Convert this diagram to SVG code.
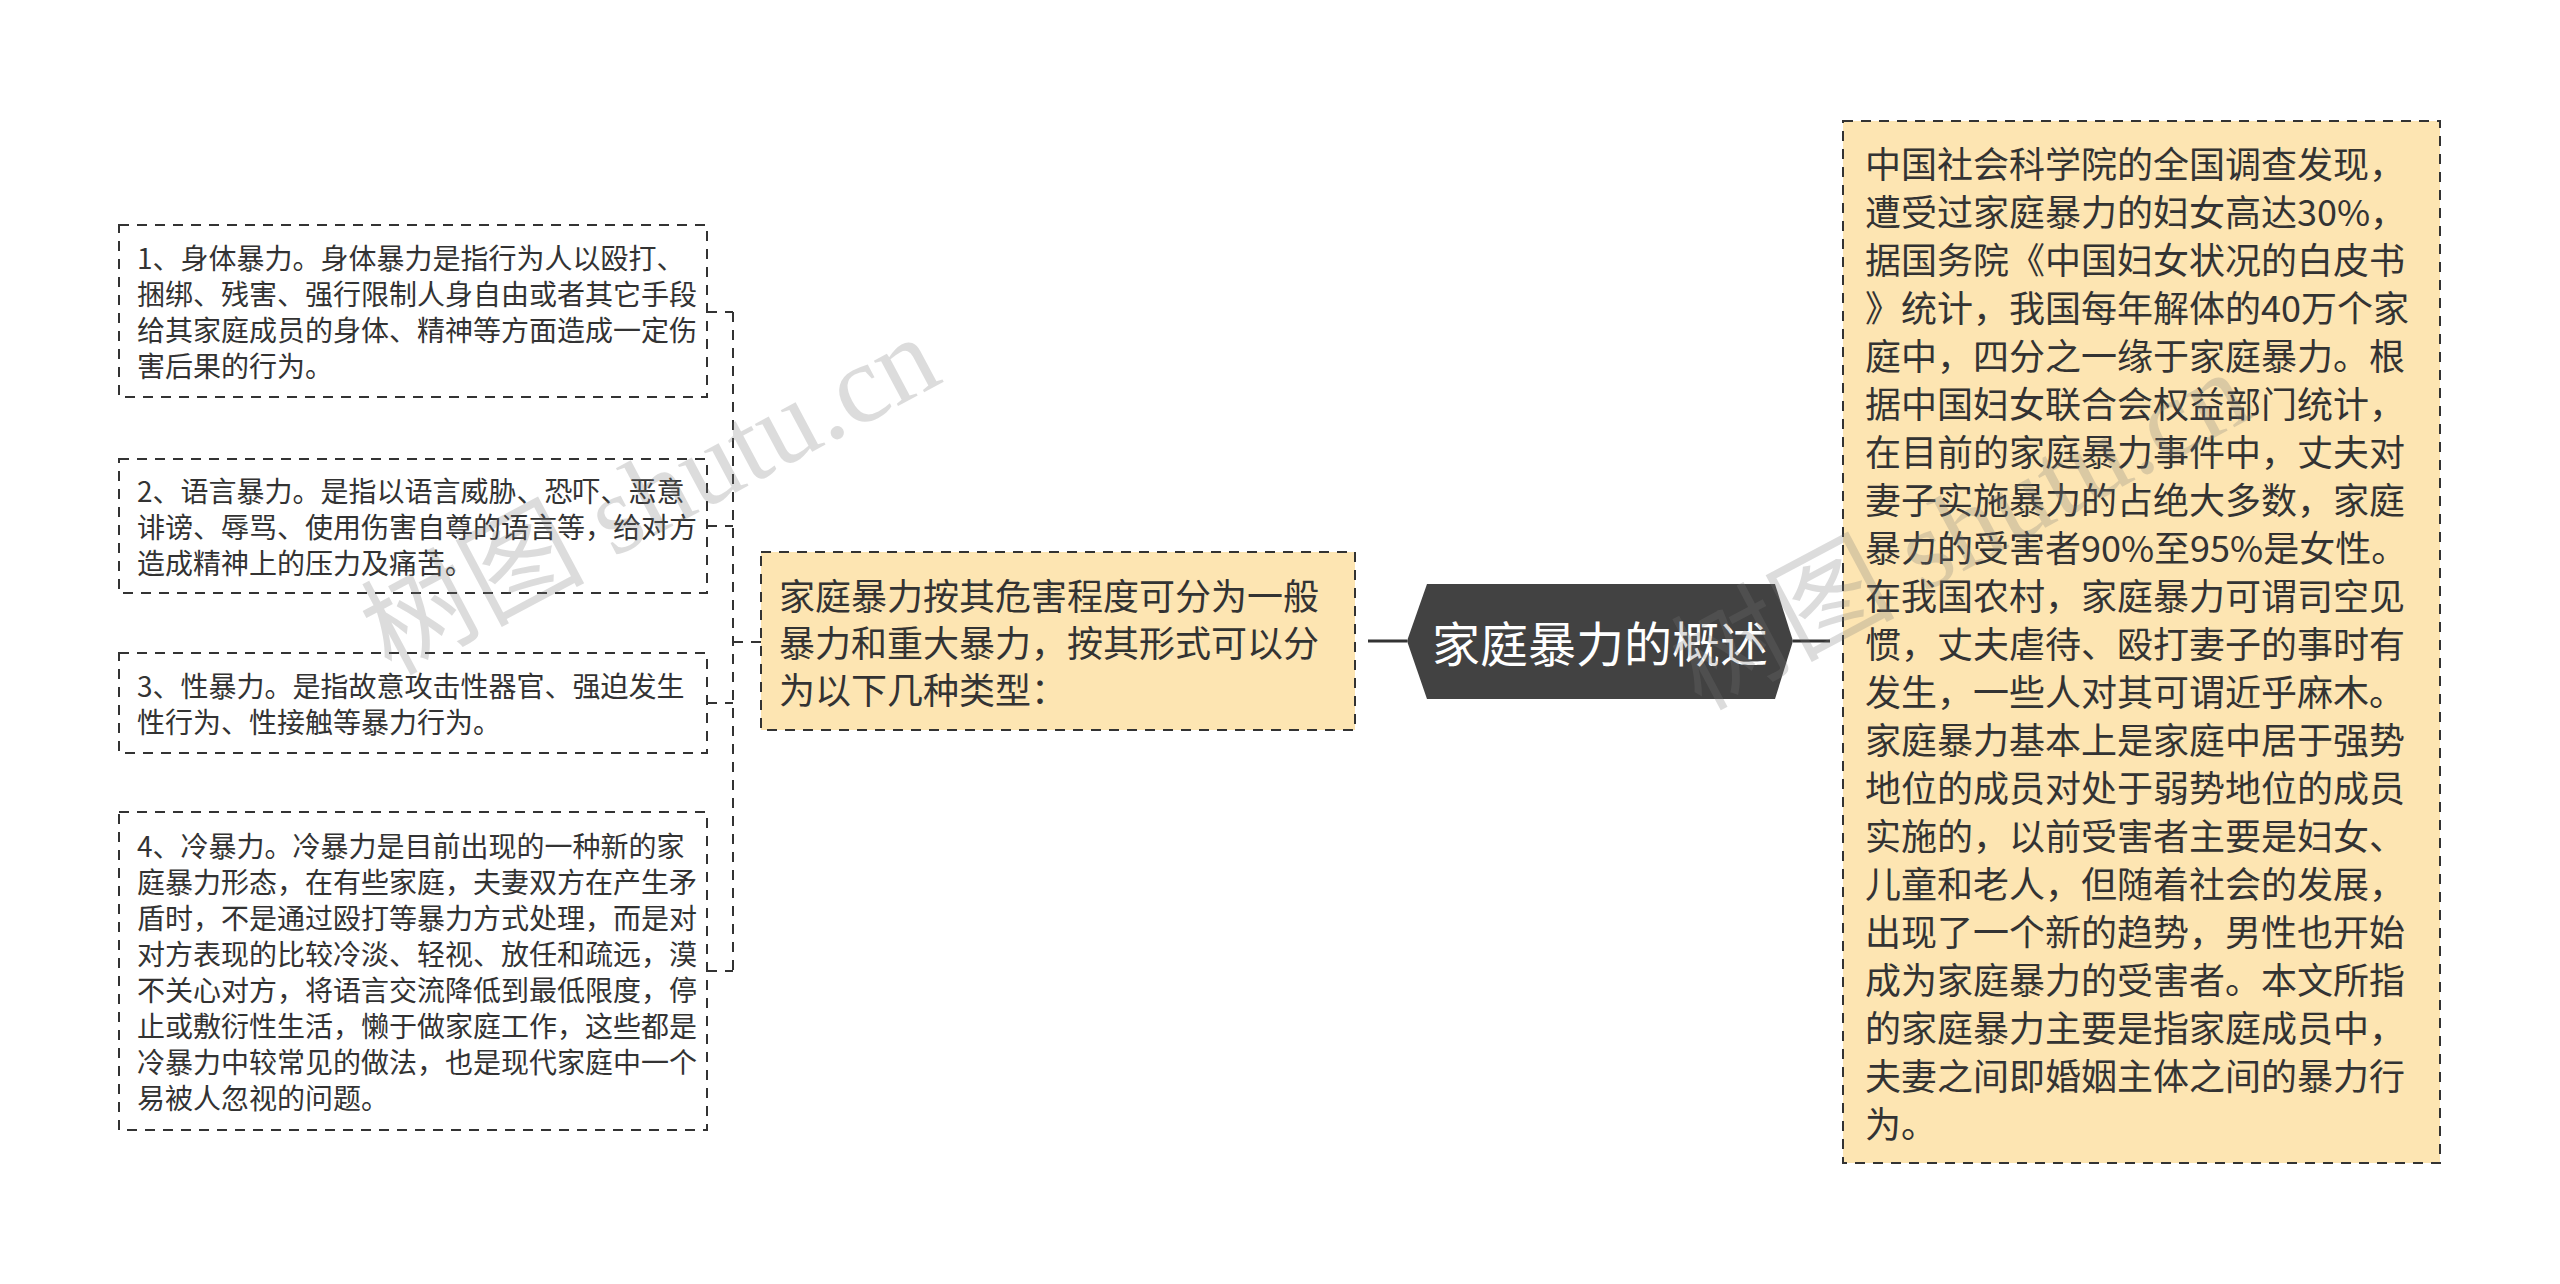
<svg xmlns="http://www.w3.org/2000/svg" width="2560" height="1284" viewBox="0 0 2560 1284">
<style>
.box{fill:#ffffff;stroke:#333333;stroke-width:2;stroke-dasharray:10 8}
.box.y{fill:#fde5b2}
.t{font-family:"Noto Sans CJK SC","Noto Sans",sans-serif;fill:#333333;dominant-baseline:central}
.s28{font-size:28px}
.s36{font-size:36px}
.conn{fill:none;stroke:#333333;stroke-width:2;stroke-dasharray:10 8}
.solid{fill:none;stroke:#333333;stroke-width:3}
.wm{font-family:"Liberation Serif","Noto Sans CJK SC",serif;font-size:112px;fill:#777777;opacity:0.25}
</style>
<rect width="2560" height="1284" fill="#ffffff"/>
<g id="connectors">
<path class="conn" d="M707 312H733M707 526H733M707 703H733M707 971H733M733 312V971M733 642H761"/>
<path class="solid" d="M1368 641H1407M1793 641H1830"/>
</g>
<g id="root">
<polygon points="1407,641 1427,584 1775,584 1793,641 1775,699 1427,699" fill="#424242"/>
<text class="t" x="1600" y="641" text-anchor="middle" font-size="48" style="fill:#ffffff">家庭暴力的概述</text>
</g>
<g id="types">
<rect class="box y" x="761" y="552" width="594" height="178"/>
<text class="t s36" x="779"><tspan x="779" y="594">家庭暴力按其危害程度可分为一般</tspan><tspan x="779" y="641">暴力和重大暴力，按其形式可以分</tspan><tspan x="779" y="688">为以下几种类型：</tspan></text>
</g>
<g id="t1">
<rect class="box" x="119" y="225" width="588" height="172"/>
<text class="t s28"><tspan x="137" y="257">1、身体暴力。身体暴力是指行为人以殴打、</tspan><tspan x="137" y="293">捆绑、残害、强行限制人身自由或者其它手段</tspan><tspan x="137" y="329">给其家庭成员的身体、精神等方面造成一定伤</tspan><tspan x="137" y="365">害后果的行为。</tspan></text>
</g>
<g id="t2">
<rect class="box" x="119" y="459" width="588" height="134"/>
<text class="t s28"><tspan x="137" y="490">2、语言暴力。是指以语言威胁、恐吓、恶意</tspan><tspan x="137" y="526">诽谤、辱骂、使用伤害自尊的语言等，给对方</tspan><tspan x="137" y="562">造成精神上的压力及痛苦。</tspan></text>
</g>
<g id="t3">
<rect class="box" x="119" y="653" width="588" height="100"/>
<text class="t s28"><tspan x="137" y="685">3、性暴力。是指故意攻击性器官、强迫发生</tspan><tspan x="137" y="721">性行为、性接触等暴力行为。</tspan></text>
</g>
<g id="t4">
<rect class="box" x="119" y="812" width="588" height="318"/>
<text class="t s28"><tspan x="137" y="845">4、冷暴力。冷暴力是目前出现的一种新的家</tspan><tspan x="137" y="881">庭暴力形态，在有些家庭，夫妻双方在产生矛</tspan><tspan x="137" y="917">盾时，不是通过殴打等暴力方式处理，而是对</tspan><tspan x="137" y="953">对方表现的比较冷淡、轻视、放任和疏远，漠</tspan><tspan x="137" y="989">不关心对方，将语言交流降低到最低限度，停</tspan><tspan x="137" y="1025">止或敷衍性生活，懒于做家庭工作，这些都是</tspan><tspan x="137" y="1061">冷暴力中较常见的做法，也是现代家庭中一个</tspan><tspan x="137" y="1097">易被人忽视的问题。</tspan></text>
</g>
<g id="overview">
<rect class="box y" x="1843" y="121" width="597" height="1042"/>
<text class="t s36"><tspan x="1865" y="162">中国社会科学院的全国调查发现，</tspan><tspan x="1865" y="210">遭受过家庭暴力的妇女高达30%，</tspan><tspan x="1865" y="258">据国务院《中国妇女状况的白皮书</tspan><tspan x="1865" y="306">》统计，我国每年解体的40万个家</tspan><tspan x="1865" y="354">庭中，四分之一缘于家庭暴力。根</tspan><tspan x="1865" y="402">据中国妇女联合会权益部门统计，</tspan><tspan x="1865" y="450">在目前的家庭暴力事件中，丈夫对</tspan><tspan x="1865" y="498">妻子实施暴力的占绝大多数，家庭</tspan><tspan x="1865" y="546">暴力的受害者90%至95%是女性。</tspan><tspan x="1865" y="594">在我国农村，家庭暴力可谓司空见</tspan><tspan x="1865" y="642">惯，丈夫虐待、殴打妻子的事时有</tspan><tspan x="1865" y="690">发生，一些人对其可谓近乎麻木。</tspan><tspan x="1865" y="738">家庭暴力基本上是家庭中居于强势</tspan><tspan x="1865" y="786">地位的成员对处于弱势地位的成员</tspan><tspan x="1865" y="834">实施的，以前受害者主要是妇女、</tspan><tspan x="1865" y="882">儿童和老人，但随着社会的发展，</tspan><tspan x="1865" y="930">出现了一个新的趋势，男性也开始</tspan><tspan x="1865" y="978">成为家庭暴力的受害者。本文所指</tspan><tspan x="1865" y="1026">的家庭暴力主要是指家庭成员中，</tspan><tspan x="1865" y="1074">夫妻之间即婚姻主体之间的暴力行</tspan><tspan x="1865" y="1122">为。</tspan></text>
</g>
<g id="watermarks">
<text class="wm" x="650" y="495" text-anchor="middle" dominant-baseline="central" transform="rotate(-28 650 495)">树图 shutu.cn</text>
<text class="wm" x="1960" y="530" text-anchor="middle" dominant-baseline="central" transform="rotate(-28 1960 530)">树图 shutu.cn</text>
</g>
</svg>
